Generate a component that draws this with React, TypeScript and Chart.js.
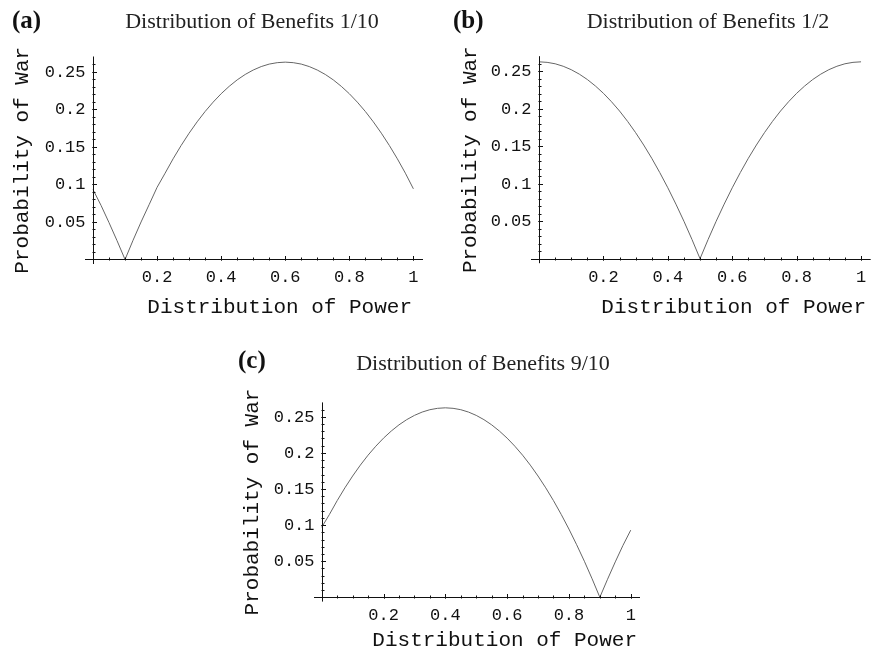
import React, { useEffect, useRef } from "react";
import { Chart, registerables } from "chart.js";

Chart.register(...registerables);

// ---------- data ----------
const powerValues = [
  0, 0.025, 0.05, 0.075, 0.1, 0.125, 0.15, 0.175, 0.2, 0.225, 0.25, 0.275, 0.3, 0.325, 0.35, 0.375, 0.4,
  0.425, 0.45, 0.475, 0.5, 0.525, 0.55, 0.575, 0.6, 0.625, 0.65, 0.675, 0.7, 0.725, 0.75, 0.775, 0.8,
  0.825, 0.85, 0.875, 0.9, 0.925, 0.95, 0.975, 1,
];

const warBenefitsOneTenth = [
  0.093, 0.072, 0.049, 0.025, 0,
  0.0256, 0.0499, 0.0728, 0.096, 0.1148, 0.1339, 0.1516, 0.168, 0.1831, 0.1969, 0.2093, 0.2205, 0.2303,
  0.2389, 0.2461, 0.252, 0.2566, 0.2599, 0.2618, 0.2625,
  0.2618, 0.2599, 0.2566, 0.252, 0.2461, 0.2389, 0.2303, 0.2205, 0.2093, 0.1969, 0.1831, 0.168, 0.1516,
  0.1339, 0.1148, 0.094,
];

const warBenefitsOneHalf = [
  0.2625, 0.2618, 0.2599, 0.2566, 0.252, 0.2461, 0.2389, 0.2303, 0.2205, 0.2093, 0.1969, 0.1831, 0.168,
  0.1516, 0.1339, 0.1148, 0.0945, 0.0728, 0.0499, 0.0256, 0,
  0.0256, 0.0499, 0.0728, 0.0945, 0.1148, 0.1339, 0.1516, 0.168, 0.1831, 0.1969, 0.2093, 0.2205, 0.2303,
  0.2389, 0.2461, 0.252, 0.2566, 0.2599, 0.2618, 0.2625,
];

const warBenefitsNineTenths = [
  0.097, 0.1148, 0.1339, 0.1516, 0.168, 0.1831, 0.1969, 0.2093, 0.2205, 0.2303, 0.2389, 0.2461, 0.252,
  0.2566, 0.2599, 0.2618, 0.2625,
  0.2618, 0.2599, 0.2566, 0.252, 0.2461, 0.2389, 0.2303, 0.2205, 0.2093, 0.1969, 0.1831, 0.168, 0.1516,
  0.1339, 0.1148, 0.0945, 0.0728, 0.0499, 0.0256, 0,
  0.025, 0.049, 0.072, 0.093,
];

const xTickValues = [0.2, 0.4, 0.6, 0.8, 1];
const xTickLabels = ["0.2", "0.4", "0.6", "0.8", "1"];
const yTickValues = [0.05, 0.1, 0.15, 0.2, 0.25];
const yTickLabels = ["0.05", "0.1", "0.15", "0.2", "0.25"];
const xMinorTickValues = [
  0.05, 0.1, 0.15, 0.2, 0.25, 0.3, 0.35, 0.4, 0.45, 0.5, 0.55, 0.6, 0.65, 0.7, 0.75, 0.8, 0.85, 0.9, 0.95, 1,
];
const yMinorTickValues = [
  0.01, 0.02, 0.03, 0.04, 0.05, 0.06, 0.07, 0.08, 0.09, 0.1, 0.11, 0.12, 0.13, 0.14, 0.15, 0.16, 0.17,
  0.18, 0.19, 0.2, 0.21, 0.22, 0.23, 0.24, 0.25, 0.26,
];

const panelLetters = ["(a)", "(b)", "(c)"];
const panelTitles = [
  "Distribution of Benefits 1/10",
  "Distribution of Benefits 1/2",
  "Distribution of Benefits 9/10",
];
const xAxisTitle = "Distribution of Power";
const yAxisTitle = "Probability of War";
const seriesList = [warBenefitsOneTenth, warBenefitsOneHalf, warBenefitsNineTenths];

// ---------- layout (positions only) ----------
type PanelLayout = {
  left: number; top: number; width: number; height: number;
  pad: { left: number; right: number; top: number; bottom: number };
  letterX: number; letterBase: number;
  titleCX: number; titleBase: number;
  xTitleRight: number; xTitleBase: number;
  yTitleBaseX: number;
};

const layouts: PanelLayout[] = [
  {
    left: 0, top: 0, width: 436, height: 320,
    pad: { left: 85, right: 13, top: 56.5, bottom: 56 },
    letterX: 12, letterBase: 28, titleCX: 252, titleBase: 28,
    xTitleRight: 412, xTitleBase: 313, yTitleBaseX: 28,
  },
  {
    left: 436, top: 0, width: 436, height: 320,
    pad: { left: 95, right: 1.3, top: 56.2, bottom: 56.8 },
    letterX: 17, letterBase: 28, titleCX: 272, titleBase: 28,
    xTitleRight: 430, xTitleBase: 313, yTitleBaseX: 40,
  },
  {
    left: 220, top: 320, width: 440, height: 331,
    pad: { left: 94, right: 20, top: 82.4, bottom: 49.4 },
    letterX: 18, letterBase: 48, titleCX: 263, titleBase: 50,
    xTitleRight: 417, xTitleBase: 326, yTitleBaseX: 38,
  },
];

const MONO = '"Liberation Mono", "DejaVu Sans Mono", monospace';
const SERIF = '"Liberation Serif", "DejaVu Serif", serif';

function makeAxesPlugin(idx: number) {
  const L = layouts[idx];
  return {
    id: "mathAxes" + idx,
    afterDraw(chart: any) {
      const ctx = chart.ctx as CanvasRenderingContext2D;
      const xs = chart.scales.x;
      const ys = chart.scales.y;
      const area = chart.chartArea;
      const x0 = Math.round(xs.getPixelForValue(0)) + 0.5;
      const y0 = Math.round(ys.getPixelForValue(0)) + 0.5;
      ctx.save();
      ctx.strokeStyle = "#111";
      ctx.lineWidth = 1;
      // axis lines
      ctx.beginPath();
      ctx.moveTo(area.left, y0);
      ctx.lineTo(area.right, y0);
      ctx.moveTo(x0, area.top);
      ctx.lineTo(x0, area.bottom);
      ctx.stroke();
      // minor ticks
      ctx.beginPath();
      xMinorTickValues.forEach((v) => {
        const px = Math.round(xs.getPixelForValue(v)) + 0.5;
        ctx.moveTo(px, y0 - 2);
        ctx.lineTo(px, y0 + 1);
      });
      yMinorTickValues.forEach((v) => {
        const py = Math.round(ys.getPixelForValue(v)) + 0.5;
        ctx.moveTo(x0 - 1, py);
        ctx.lineTo(x0 + 2, py);
      });
      ctx.stroke();
      // major ticks
      ctx.beginPath();
      xTickValues.forEach((v) => {
        const px = Math.round(xs.getPixelForValue(v)) + 0.5;
        ctx.moveTo(px, y0 - 3.5);
        ctx.lineTo(px, y0 + 1);
      });
      yTickValues.forEach((v) => {
        const py = Math.round(ys.getPixelForValue(v)) + 0.5;
        ctx.moveTo(x0 - 1, py);
        ctx.lineTo(x0 + 3.5, py);
      });
      ctx.stroke();

      ctx.fillStyle = "#111";
      // tick labels
      ctx.font = "17px " + MONO;
      ctx.textAlign = "center";
      ctx.textBaseline = "middle";
      xTickValues.forEach((v, i) => {
        ctx.fillText(xTickLabels[i], xs.getPixelForValue(v), y0 + 18);
      });
      ctx.textAlign = "right";
      yTickValues.forEach((v, i) => {
        ctx.fillText(yTickLabels[i], x0 - 8, ys.getPixelForValue(v) + 0.5);
      });
      // axis titles
      ctx.font = "21px " + MONO;
      ctx.textBaseline = "alphabetic";
      ctx.textAlign = "right";
      ctx.fillText(xAxisTitle, L.xTitleRight, L.xTitleBase);
      ctx.save();
      ctx.translate(L.yTitleBaseX, (area.top + area.bottom) / 2);
      ctx.rotate(-Math.PI / 2);
      ctx.textAlign = "center";
      ctx.fillText(yAxisTitle, 0, 0);
      ctx.restore();
      // panel letter and title
      ctx.textAlign = "left";
      ctx.font = "bold 25px " + SERIF;
      ctx.fillText(panelLetters[idx], L.letterX, L.letterBase);
      ctx.textAlign = "center";
      ctx.font = "22px " + SERIF;
      ctx.fillStyle = "#222";
      ctx.fillText(panelTitles[idx], L.titleCX, L.titleBase);
      ctx.restore();
    },
  };
}

function Panel({ idx }: { idx: number }) {
  const ref = useRef<HTMLCanvasElement | null>(null);
  const L = layouts[idx];
  useEffect(() => {
    if (!ref.current) return;
    const series = seriesList[idx];
    const chart = new Chart(ref.current, {
      type: "line",
      data: {
        datasets: [
          {
            data: powerValues.map((x, i) => ({ x, y: series[i] })),
            borderColor: "#666",
            borderWidth: 1,
            pointRadius: 0,
            tension: 0,
            fill: false,
            clip: false as any,
          },
        ],
      },
      options: {
        responsive: false,
        animation: false,
        events: [],
        layout: { padding: L.pad },
        plugins: { legend: { display: false }, tooltip: { enabled: false }, title: { display: false } },
        scales: {
          x: { type: "linear", min: -0.025, max: 1.03, display: false },
          y: { type: "linear", min: -0.006, max: 0.27, display: false },
        },
      },
      plugins: [makeAxesPlugin(idx)],
    } as any);
    return () => chart.destroy();
  }, [idx]);
  return (
    <canvas
      ref={ref}
      width={L.width}
      height={L.height}
      style={{ position: "absolute", left: L.left, top: L.top, width: L.width, height: L.height }}
    />
  );
}

export default function App() {
  return (
    <div style={{ position: "absolute", left: 0, top: 0, width: 872, height: 651, background: "#fff" }}>
      <Panel idx={0} />
      <Panel idx={1} />
      <Panel idx={2} />
    </div>
  );
}
